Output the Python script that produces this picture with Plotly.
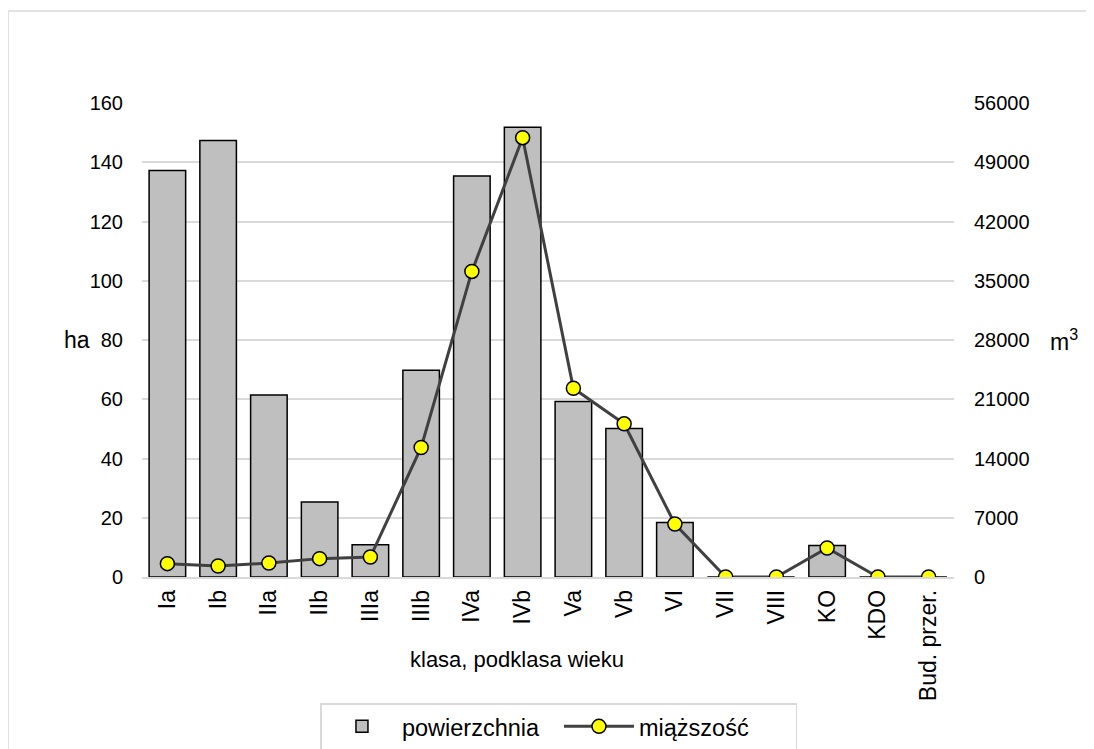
import plotly.graph_objects as go

categories = ["Ia", "Ib", "IIa", "IIb", "IIIa", "IIIb", "IVa", "IVb", "Va", "Vb",
              "VI", "VII", "VIII", "KO", "KDO", "Bud. przer."]
powierzchnia = [137.2, 147.3, 61.4, 25.3, 10.9, 69.8, 135.4, 151.8, 59.2, 50.1,
                18.4, 0, 0, 10.6, 0, 0]
miazszosc = [1580, 1300, 1650, 2170, 2360, 15300, 36100, 51900, 22300, 18100,
             6260, 0, 0, 3430, 0, 0]
left_ticks = [0, 20, 40, 60, 80, 100, 120, 140, 160]
right_ticks = [0, 7000, 14000, 21000, 28000, 35000, 42000, 49000, 56000]

FONT = "Liberation Sans, Arial, sans-serif"

fig = go.Figure()
fig.add_trace(go.Bar(
    x=categories, y=powierzchnia, name="powierzchnia",
    marker=dict(color="#bfbfbf", line=dict(color="#000000", width=1.5)),
    yaxis="y",
))
fig.add_trace(go.Scatter(
    x=categories, y=miazszosc, name="miąższość", mode="lines+markers",
    line=dict(color="#404040", width=3),
    marker=dict(color="#ffff00", size=14, line=dict(color="#000000", width=1.5)),
    yaxis="y2",
))

fig.update_layout(
    width=1086, height=741,
    margin=dict(l=134, r=140, t=95, b=172, autoexpand=False),
    paper_bgcolor="white", plot_bgcolor="white",
    font=dict(family=FONT, size=20, color="#000000"),
    bargap=0.28,
    showlegend=True,
    legend=dict(orientation="h", x=0.5135, xanchor="center", y=-0.266, yanchor="top",
                bordercolor="#d9d9d9", borderwidth=1.5, font=dict(size=23.5),
                itemwidth=70, entrywidth=152, entrywidthmode="pixels"),
    xaxis=dict(
        type="category", range=[-0.5, 15.5],
        tickmode="array", tickvals=categories, ticktext=categories,
        tickangle=-90, showgrid=False, showline=True, linecolor="#d9d9d9", linewidth=1.5,
        ticks="", ticklabelstandoff=2, automargin=False, tickfont=dict(size=23),
    ),
    yaxis=dict(
        range=[0, 160], tickmode="array", tickvals=left_ticks,
        ticktext=[str(v) for v in left_ticks],
        showgrid=True, gridcolor="#d9d9d9", gridwidth=1.5, zeroline=False,
        showline=False, ticks="", ticklabelstandoff=18, automargin=False,
    ),
    yaxis2=dict(
        range=[0, 56000], tickmode="array", tickvals=right_ticks,
        ticktext=[str(v) for v in right_ticks],
        overlaying="y", side="right", showgrid=False, zeroline=False,
        showline=False, ticks="", ticklabelstandoff=19, automargin=False,
    ),
    annotations=[
        dict(text="klasa, podklasa wieku", xref="paper", yref="paper", x=0.462, y=-0.175,
             xanchor="center", yanchor="middle", showarrow=False, font=dict(size=22)),
        dict(text="ha", xref="paper", yref="paper", x=-0.062, y=0.5,
             xanchor="right", yanchor="middle", showarrow=False, font=dict(size=23)),
        dict(text="m<sup>3</sup>", xref="paper", yref="paper", x=1.116, y=0.5,
             xanchor="left", yanchor="middle", showarrow=False, font=dict(size=23)),
    ],
    shapes=[
        dict(type="rect", xref="paper", yref="paper",
             x0=-0.165, x1=1.3, y0=-0.6, y1=1.194,
             line=dict(color="#d9d9d9", width=1.5), fillcolor="rgba(0,0,0,0)", layer="below"),
    ],
)

fig.write_html("out.html")
